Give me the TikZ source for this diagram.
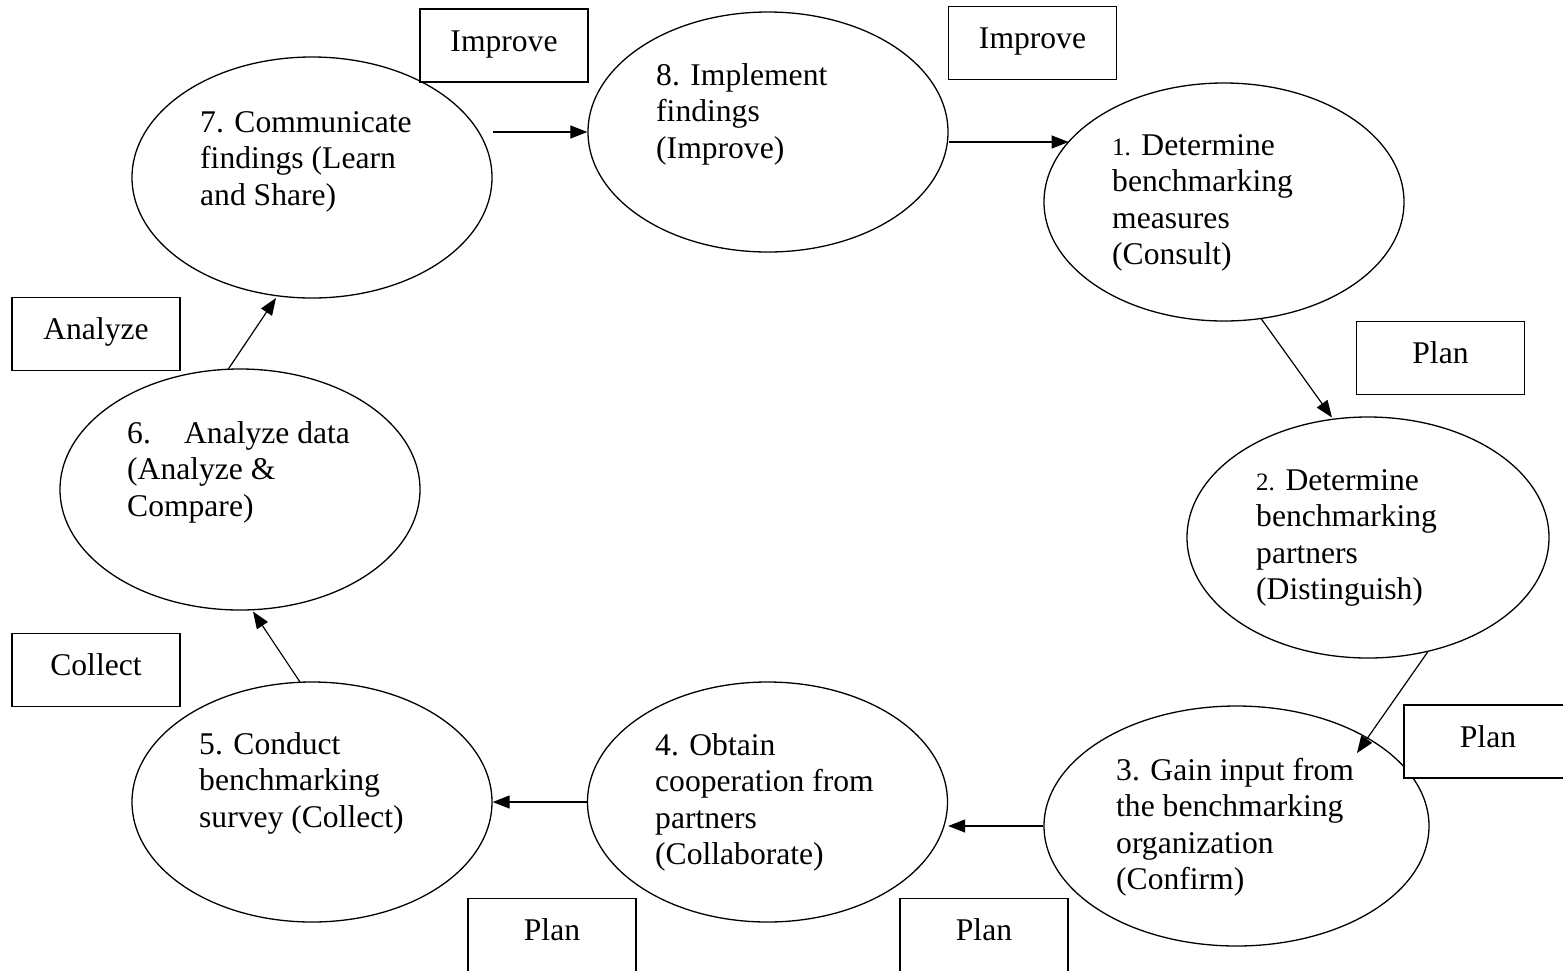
\documentclass[tikz,border=0pt]{standalone}
\usepackage{fontspec}
\setmainfont{Liberation Serif}
\usetikzlibrary{arrows.meta,calc,shapes.geometric}
\begin{document}
\begin{tikzpicture}[x=1pt,y=-1pt,
  every node/.style={font=\fontsize{31.6}{36.6}\selectfont},
  oval/.style={ellipse,draw,line width=1.3pt,inner sep=0pt,minimum width=360pt,minimum height=241pt},
  box/.style={draw,fill=white,line width=1.4pt,inner sep=0pt,minimum width=168pt,minimum height=73pt,text height=20pt,text depth=9pt},
  txt/.style={anchor=base west,inner sep=0pt},
  arr/.style={line width=1.2pt,-{Triangle[length=17pt,width=13pt]}}
]
\useasboundingbox (0,0) rectangle (1563,970);
\newcommand{\smallnum}[1]{{\fontsize{25}{36.6}\selectfont #1}}

% ellipses
\node[oval] (e7) at (312,177.5) {};
\node[oval,minimum height=240pt] (e8) at (768,132) {};
\node[oval,minimum height=238pt] (e1) at (1224,202) {};
\node[oval,minimum width=362pt] (e2) at (1368,537.5) {};
\node[oval,minimum width=385pt,minimum height=240pt] (e3) at (1236.5,826) {};
\node[oval,minimum height=240pt] (e4) at (767.5,802) {};
\node[oval,minimum height=240pt] (e5) at (312,802) {};
\node[oval] (e6) at (240,489.5) {};

% ellipse texts
\node[txt] (t7) at (200,132) {\begin{tabular}[t]{@{}l@{}}7. Communicate\\findings (Learn\\and Share)\end{tabular}};
\node[txt] (t8) at (656,85) {\begin{tabular}[t]{@{}l@{}}8. Implement\\findings\\(Improve)\end{tabular}};
\node[txt] (t1) at (1112,155) {\begin{tabular}[t]{@{}l@{}}\smallnum{1.} Determine\\benchmarking\\measures\\(Consult)\end{tabular}};
\node[txt] (t2) at (1256,490) {\begin{tabular}[t]{@{}l@{}}\smallnum{2.} Determine\\benchmarking\\partners\\(Distinguish)\end{tabular}};
\node[txt] (t3) at (1116,780) {\begin{tabular}[t]{@{}l@{}}3. Gain input from\\the benchmarking\\organization\\(Confirm)\end{tabular}};
\node[txt] (t4) at (655,755) {\begin{tabular}[t]{@{}l@{}}4. Obtain\\cooperation from\\partners\\(Collaborate)\end{tabular}};
\node[txt] (t5) at (199,754) {\begin{tabular}[t]{@{}l@{}}5. Conduct\\benchmarking\\survey (Collect)\end{tabular}};
\node[txt] (t6) at (127,443) {\begin{tabular}[t]{@{}l@{}}\makebox[57pt][l]{6.}Analyze data\\(Analyze \&\\Compare)\end{tabular}};

% boxes
\node[box] (b1) at (504,45.5) {Improve};
\node[box] (b2) at (1032.5,43) {Improve};
\node[box] (b3) at (1440.5,358) {Plan};
\node[box] (b4) at (1488,741.5) {Plan};
\node[box] (b5) at (984,935) {Plan};
\node[box] (b6) at (552,935) {Plan};
\node[box] (b7) at (96,334) {Analyze};
\node[box] (b8) at (96,670) {Collect};

% connectors
\draw[arr] (e7.east |- e8.west) -- (e8.west);
\draw[arr] (e8.east |- 0,142) -- ($(e1.center)+(-155.4,-60)$);
\draw[arr] ($(e1.center)+(37,116.5)$) -- ($(e2.center)+(-36,-120)$);
\draw[arr] ($(e2.center)+(60,114)$) -- ($(e3.center)+(120.5,-73)$);
\draw[arr] (e3.west) -- (e3.west -| e4.east);
\draw[arr] (e4.west) -- (e5.east);
\draw[arr] ($(e5.center)+(-12,-120)$) -- ($(e6.center)+(13,122)$);
\draw[arr] ($(e6.center)+(-12,-120)$) -- ($(e7.center)+(-36,120.5)$);
\end{tikzpicture}
\end{document}
